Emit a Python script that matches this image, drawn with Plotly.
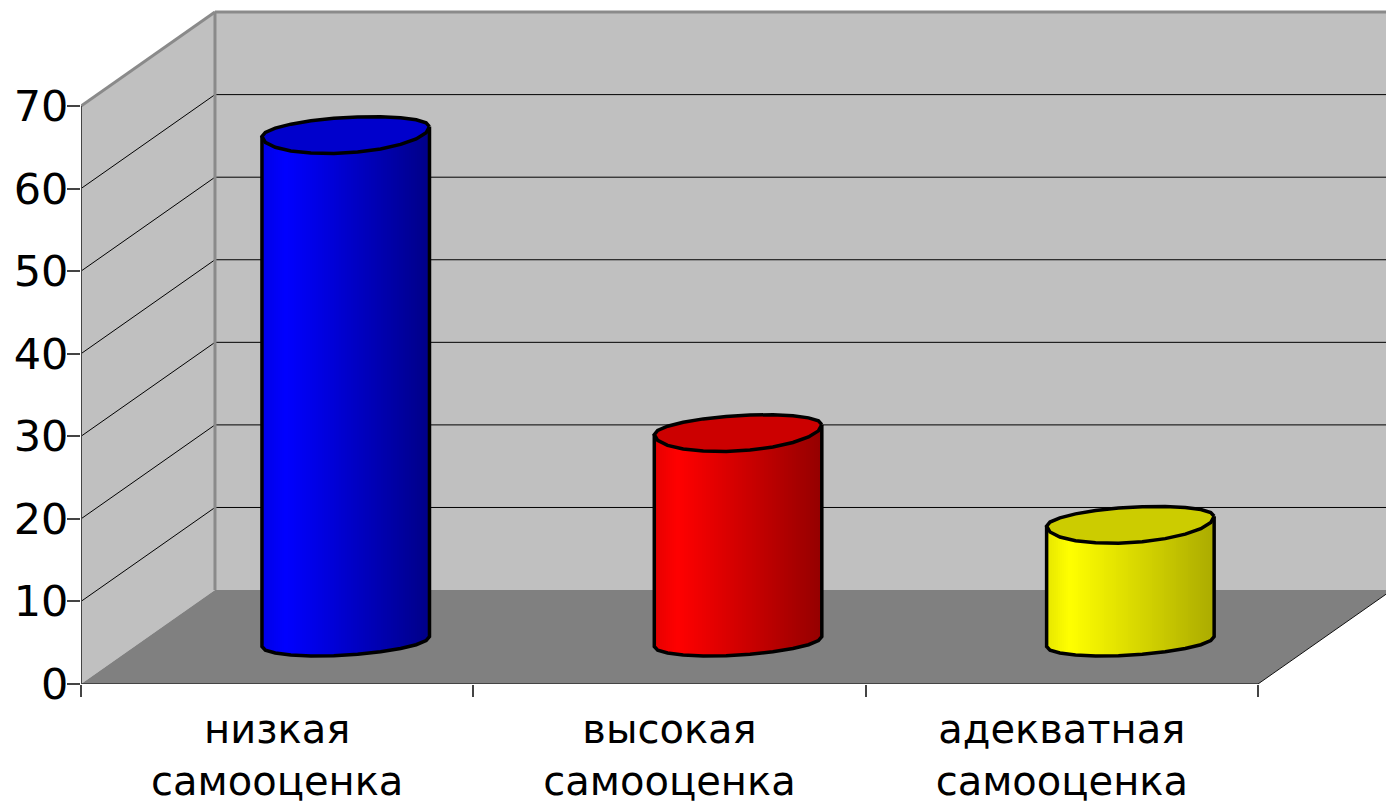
import numpy as np
import plotly.graph_objects as go

categories = ["низкая<br>самооценка", "высокая<br>самооценка", "адекватная<br>самооценка"]
values = [60.8, 24.7, 13.6]
base_rgb = [(0, 0, 255), (255, 0, 0), (255, 255, 0)]
shade_drop = [0.47, 0.42, 0.33]
y_ticks = [0, 10, 20, 30, 40, 50, 60, 70]

DX, DY = 0.3415, 11.38       # depth of the 3D box in axis units
X_MAX, Y_MAX = 1305 / 392.33, 684 / 8.257
HW = 0.2135                  # cylinder half width
TILT = 0.6
OFF_TOP, S_UP, S_DN = 0.42, 1.70, 2.59
OFF_BOT, S_BOT = -0.545, 1.65
WALL, FLOOR, EDGE = "#c0c0c0", "#808080", "#8a8a8a"
AXIS = "#444444"
FONT = dict(family="DejaVu Sans", size=40, color="#000000")
TICK_FONT = dict(family="DejaVu Sans", size=43, color="#000000")


def top_ell(cx, cy, t):
    x = cx + HW * np.cos(t)
    s = np.where(np.sin(t) > 0, S_UP, S_DN)
    return x, cy + OFF_TOP + TILT * np.cos(t) + s * np.sin(t)


def bot_ell(cx, cy, t):
    x = cx + HW * np.cos(t)
    return x, cy + OFF_BOT + TILT * np.cos(t) + S_BOT * np.sin(t)


def poly(pts):
    return "M" + " L".join(f"{a},{b}" for a, b in pts) + " Z"


shapes = [
    dict(type="path", path=poly([(0, 0), (DX, DY), (DX, 70 + DY), (0, 70)]),
         fillcolor=WALL, line_width=0, layer="below"),
    dict(type="path", path=poly([(DX, DY), (3 + DX, DY), (3 + DX, 70 + DY), (DX, 70 + DY)]),
         fillcolor=WALL, line_width=0, layer="below"),
    dict(type="path", path=poly([(0, 0), (3, 0), (3 + DX, DY), (DX, DY)]),
         fillcolor=FLOOR, line_width=0, layer="below"),
]
for v in y_ticks[1:]:
    for a, b, c, d in [(0, v, DX, v + DY), (DX, v + DY, 3 + DX, v + DY)]:
        shapes.append(dict(type="line", x0=a, y0=b, x1=c, y1=d, layer="below",
                           line=dict(color="#000000", width=1)))
for a, b, c, d in [(DX, DY, DX, 70 + DY), (DX, 70 + DY, 3 + DX, 70 + DY), (0, 70, DX, 70 + DY)]:
    shapes.append(dict(type="line", x0=a, y0=b, x1=c, y1=d, layer="below",
                       line=dict(color=EDGE, width=3)))
shapes.append(dict(type="line", x0=3, y0=0, x1=3 + DX, y1=DY, layer="below",
                   line=dict(color="#111111", width=1)))

fig = go.Figure()


def shade(rgb, f, lo):
    k = 0.9 + f / 0.14 * 0.1 if f < 0.14 else 1 - (f - 0.14) / 0.86 * lo
    return "rgb({},{},{})".format(*[int(round(c * k)) for c in rgb])


for i, (val, rgb, lo) in enumerate(zip(values, base_rgb, shade_drop)):
    cx = i + 0.5 + DX / 2 + 0.004
    cy0 = DY / 2
    cy1 = cy0 + val
    n = 84
    edges = np.linspace(cx - HW, cx + HW, n + 1)
    mids = (edges[:-1] + edges[1:]) / 2
    ts = -np.arccos(np.clip((mids - cx) / HW, -1, 1))
    _, yb = bot_ell(cx, cy0, ts)
    _, yt = top_ell(cx, cy1, ts)
    cols = [shade(rgb, (m - edges[0]) / (2 * HW), lo) for m in mids]
    fig.add_trace(go.Bar(x=mids, y=yt - yb, base=yb, width=(edges[1] - edges[0]) * 1.25,
                         marker=dict(color=cols, line_width=0),
                         hoverinfo="skip", showlegend=False))
    # top ellipse (coarse polygon, as in the reference)
    t = np.linspace(0, 2 * np.pi, 23)
    ex, ey = top_ell(cx, cy1, t)
    top = tuple(int(c * 0.8) for c in rgb)
    fig.add_trace(go.Scatter(x=ex, y=ey, mode="lines", fill="toself",
                             fillcolor="rgb({},{},{})".format(*top),
                             line=dict(color="#000000", width=3.5),
                             hoverinfo="skip", showlegend=False))
    # silhouette
    tb = np.linspace(-np.pi, 0, 12)
    bx, by = bot_ell(cx, cy0, tb)
    lx, ly = top_ell(cx, cy1, np.array([np.pi]))
    rx, ry = top_ell(cx, cy1, np.array([0.0]))
    ox = np.concatenate([lx, bx, rx])
    oy = np.concatenate([ly, by, ry])
    fig.add_trace(go.Scatter(x=ox, y=oy, mode="lines", line=dict(color="#000000", width=3.5),
                             hoverinfo="skip", showlegend=False))

for xs, ys in [([0, 0], [0, 70]), ([0, 3], [0, 0])]:
    fig.add_trace(go.Scatter(x=xs, y=ys, mode="lines", cliponaxis=False,
                             line=dict(color=AXIS, width=2),
                             hoverinfo="skip", showlegend=False))

fig.update_layout(
    width=1386, height=804, autosize=False,
    margin=dict(l=81, r=0, t=0, b=120, pad=0, autoexpand=False),
    paper_bgcolor="#ffffff", plot_bgcolor="#ffffff",
    shapes=shapes, barmode="overlay", bargap=0, showlegend=False, font=FONT,
    xaxis=dict(range=[0, X_MAX], tickmode="array", tickvals=[0.5, 1.5, 2.5], ticktext=categories,
               ticks="outside", ticklen=10, tickcolor="rgba(0,0,0,0)", showgrid=False, zeroline=False,
               showline=False, tickangle=0, tickfont=FONT, automargin=False,
               minor=dict(tickmode="array", tickvals=[0, 1, 2, 3], ticks="outside", ticklen=12,
                          tickwidth=2, tickcolor=AXIS, showgrid=False)),
    yaxis=dict(range=[0, Y_MAX], tickmode="array", tickvals=y_ticks, ticks="outside", ticklen=13,
               tickwidth=2, tickcolor=AXIS, showgrid=False, zeroline=False, showline=False,
               tickfont=TICK_FONT, ticklabelstandoff=-10, automargin=False),
)
fig.write_html("out.html", config=dict(displayModeBar=False),
               post_script="document.body.style.margin='0';document.documentElement.style.overflow='hidden';")
